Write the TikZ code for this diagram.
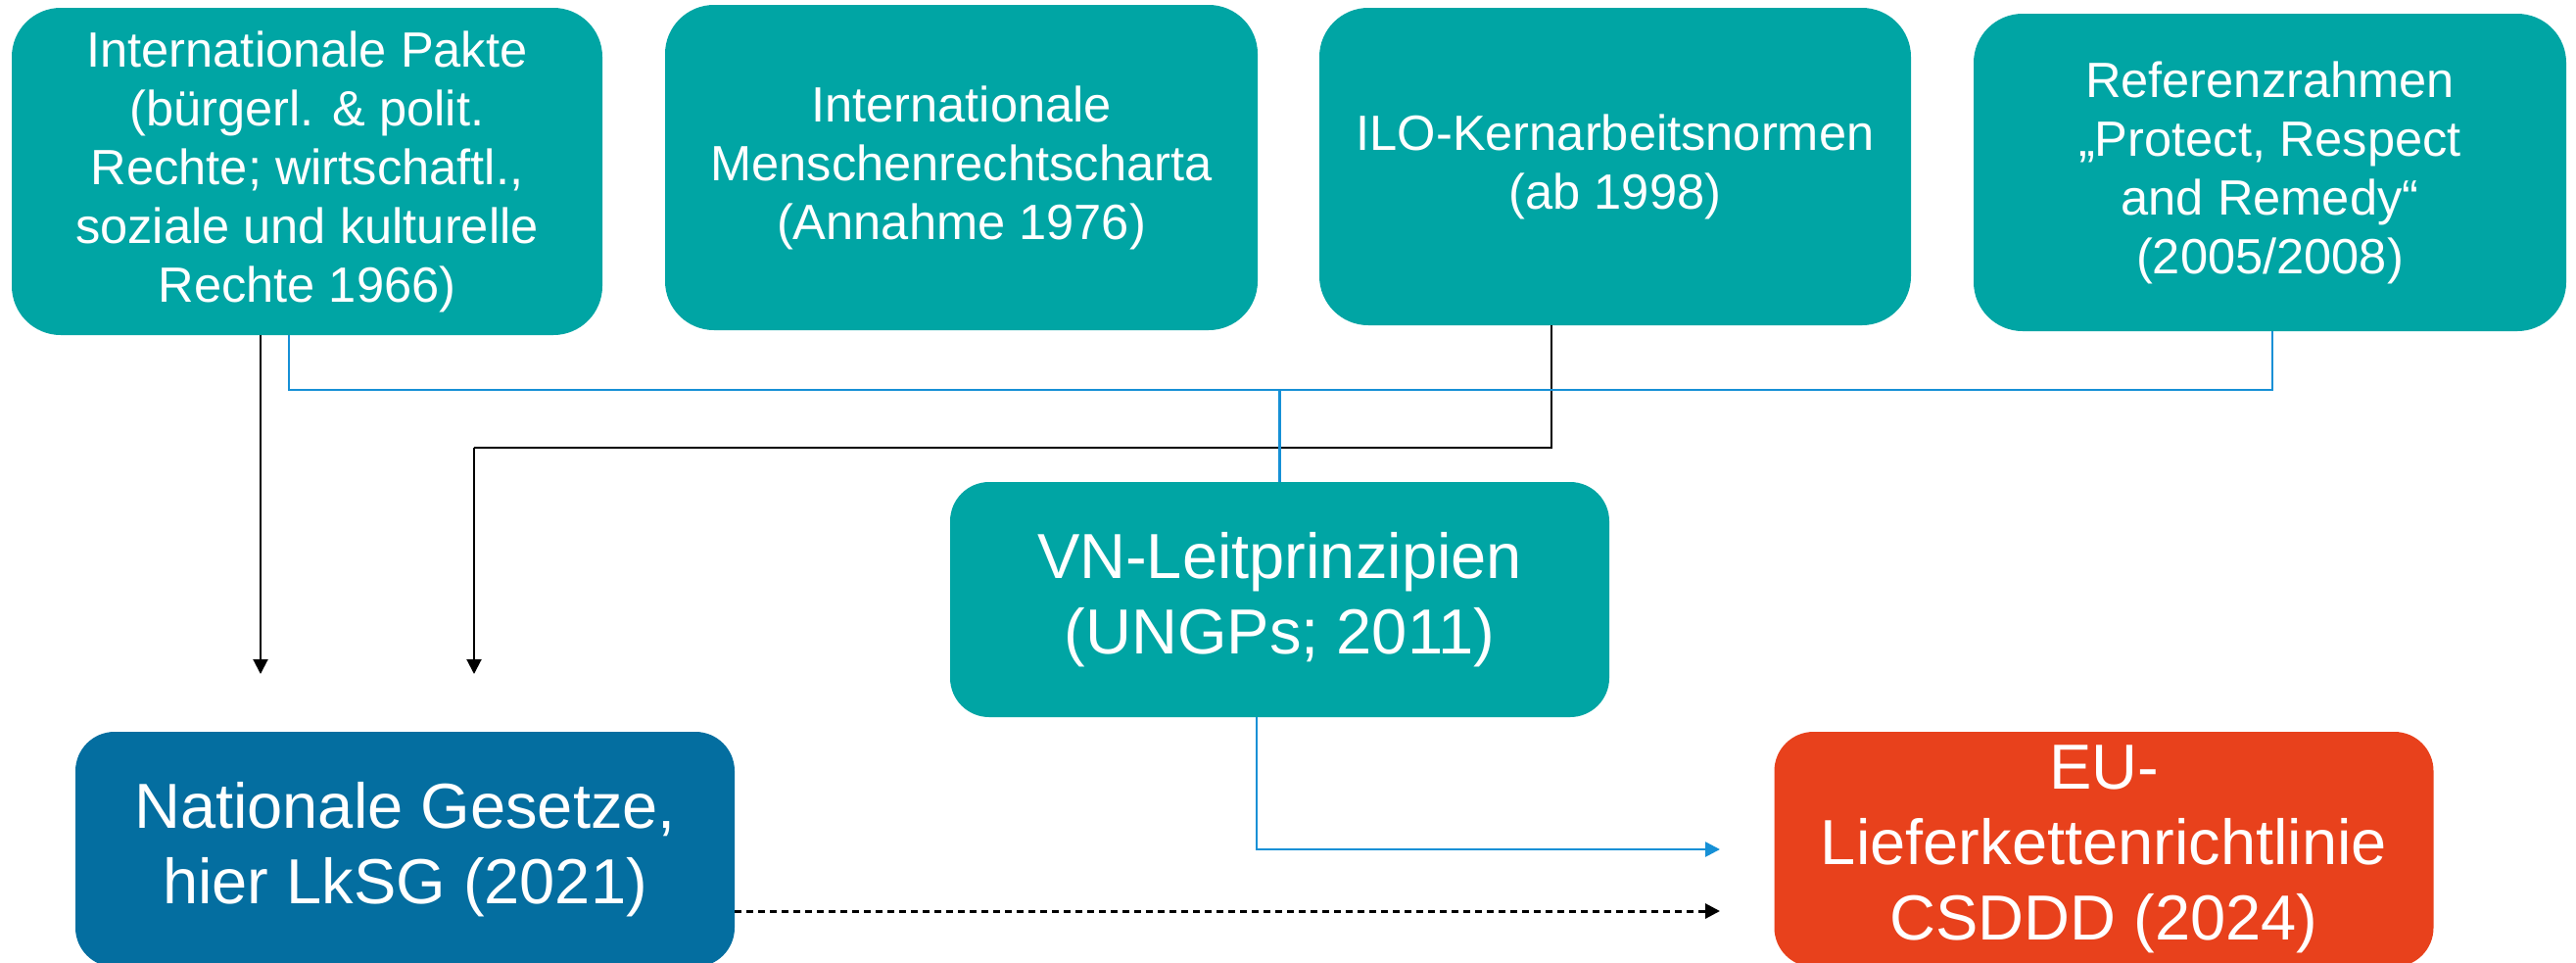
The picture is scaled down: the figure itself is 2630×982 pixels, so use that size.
\documentclass[tikz,border=0pt]{standalone}
\usepackage{fontspec}
\setmainfont{Liberation Sans}
\usetikzlibrary{arrows.meta}
\definecolor{teal}{RGB}{0,165,164}
\definecolor{natblue}{RGB}{4,110,160}
\definecolor{eured}{RGB}{232,65,28}
\definecolor{lineblue}{RGB}{22,144,214}
\tikzset{
  topbox/.style={fill=teal, draw=none, rounded corners=25pt, text=white, align=center,
    font=\fontsize{25.3}{30}\selectfont, inner sep=0pt},
  bigbox/.style={draw=none, rounded corners=20pt, text=white, align=center,
    font=\fontsize{32.5}{38.5}\selectfont, inner sep=0pt, minimum width=336.5pt, minimum height=120pt},
  blk/.style={draw=black, line width=1pt},
  blu/.style={draw=lineblue, line width=1.1pt},
  tipblk/.style={-{Triangle[length=7.5pt,width=7.5pt]}},
  tipblu/.style={-{Triangle[length=7.5pt,width=7.5pt]}}
}
\begin{document}
\begin{tikzpicture}[x=0.5pt,y=-0.5pt]
\useasboundingbox (0,0) rectangle (2630,982);
\clip (0,0) rectangle (2630,982);
\node[topbox, minimum width=301.5pt, minimum height=167pt] (b1) at (313.5,175)
  {Internationale Pakte\\(bürgerl. \& polit.\\Rechte; wirtschaftl.,\\soziale und kulturelle\\Rechte 1966)};
\node[topbox, minimum width=302.5pt, minimum height=166pt] (b2) at (981.5,171)
  {Internationale\\Menschenrechtscharta\\(Annahme 1976)};
\node[topbox, minimum width=302pt, minimum height=162pt] (b3) at (1649,170)
  {ILO-Kernarbeitsnormen\\(ab 1998)};
\node[topbox, minimum width=302.5pt, minimum height=162pt] (b4) at (2317.5,176)
  {Referenzrahmen\\„Protect, Respect\\and Remedy“\\(2005/2008)};
\node[bigbox, fill=teal] (vn) at (1306.5,612) {VN-Leitprinzipien\\(UNGPs; 2011)};
\node[bigbox, fill=natblue] (nat) at (413.5,867) {Nationale Gesetze,\\hier LkSG (2021)};
\node[bigbox, fill=eured] (eu) at (2148,867) {EU-\\Lieferkettenrichtlinie\\CSDDD (2024)};

\coordinate (t1) at (266,688);
\coordinate (t2) at (484,688);
\coordinate (j2) at (484,457);
\coordinate (bl) at (295,398);
\coordinate (br) at (2320,398);
\coordinate (t3) at (1756,867);
\coordinate (t4) at (1756,930);

% black connectors
\draw[blk, tipblk] (t1 |- b1.south) -- (t1);
\draw[blk, line width=1.2pt] (1584,0 |- b3.south) |- (j2);
\draw[blk, tipblk] (j2) -- (t2);
\draw[blk, line width=1.5pt, dash pattern=on 3.5pt off 2.5pt, tipblk] (nat.east |- t4) -- (t4);
% blue connectors
\draw[blu] (bl |- b1.south) -- (bl) -- (br) -- (br |- b4.south);
\draw[blu] (vn.north |- bl) -- (vn.north);
\draw[blu, line width=1.3pt, tipblu] (1283,0 |- vn.south) |- (t3);
\end{tikzpicture}
\end{document}
